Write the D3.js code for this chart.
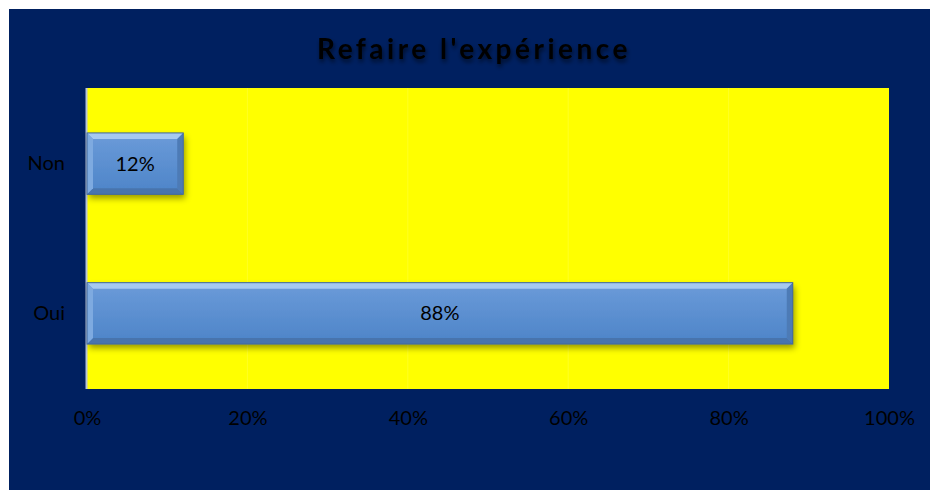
<!doctype html>
<html>
<head>
<meta charset="utf-8">
<title>Refaire l'expérience</title>
<script src="https://cdn.jsdelivr.net/npm/d3@7"></script>
<style>
  body { margin: 0; background: #ffffff; }
  text { font-family: Lato, "Open Sans", sans-serif; }
</style>
</head>
<body>
<script>
var categories = ["Non", "Oui"];
var values = [0.12, 0.88];
var tickValues = [0, 0.2, 0.4, 0.6, 0.8, 1];
var title = "Refaire l'expérience";

var width = 930, height = 490;
var margin = { left: 87, right: 41, top: 88, bottom: 101 };

var svg = d3.select("body").append("svg")
    .attr("width", width)
    .attr("height", height);

var defs = svg.append("defs");

var grad = defs.append("linearGradient")
    .attr("id", "barFill")
    .attr("x1", 0).attr("y1", 0).attr("x2", 0).attr("y2", 1);
grad.append("stop").attr("offset", "0%").attr("stop-color", "#6b9bd9");
grad.append("stop").attr("offset", "100%").attr("stop-color", "#4d84c8");

var shadow = defs.append("filter").attr("id", "barShadow")
    .attr("x", "-10%").attr("y", "-20%").attr("width", "130%").attr("height", "160%");
shadow.append("feDropShadow")
    .attr("dx", 2).attr("dy", 4).attr("stdDeviation", 3)
    .attr("flood-color", "#000").attr("flood-opacity", 0.4);

var titleShadow = defs.append("filter").attr("id", "titleShadow")
    .attr("x", "-10%").attr("y", "-30%").attr("width", "120%").attr("height", "180%");
titleShadow.append("feDropShadow")
    .attr("dx", 1).attr("dy", 3).attr("stdDeviation", 2)
    .attr("flood-color", "#000").attr("flood-opacity", 0.6);

// background
svg.append("rect")
    .attr("x", 9).attr("y", 9)
    .attr("width", width - 9).attr("height", height - 9)
    .attr("fill", "#002060");

var x = d3.scaleLinear()
    .domain([0, 1])
    .range([margin.left, width - margin.right]);

var y = d3.scaleBand()
    .domain(categories)
    .range([margin.top, height - margin.bottom])
    .paddingInner(0.59)
    .paddingOuter(0.3);

// plot area
svg.append("rect")
    .attr("x", x(0)).attr("y", margin.top)
    .attr("width", x(1) - x(0))
    .attr("height", height - margin.bottom - margin.top)
    .attr("fill", "#ffff00");

// faint gridlines
svg.selectAll(".grid")
    .data(tickValues.slice(1, -1))
    .enter().append("line")
    .attr("x1", function(d) { return x(d); })
    .attr("x2", function(d) { return x(d); })
    .attr("y1", margin.top)
    .attr("y2", height - margin.bottom)
    .attr("stroke", "#ffffb0")
    .attr("stroke-width", 1)
    .attr("opacity", 0.2);

// left axis line
svg.append("line")
    .attr("x1", x(0) - 0.5).attr("x2", x(0) - 0.5)
    .attr("y1", margin.top).attr("y2", height - margin.bottom)
    .attr("stroke", "#b8c4d8").attr("stroke-width", 2);

// bars
var bars = svg.selectAll(".bar")
    .data(categories)
    .enter().append("g")
    .attr("class", "bar");

var bev = 6;

bars.append("rect")
    .attr("x", x(0))
    .attr("y", function(d) { return y(d); })
    .attr("width", function(d, i) { return x(values[i]) - x(0); })
    .attr("height", y.bandwidth())
    .attr("fill", "url(#barFill)")
    .attr("filter", "url(#barShadow)");

// top bevel
bars.append("path")
    .attr("d", function(d, i) {
        var x0 = x(0), x1 = x(values[i]), y0 = y(d);
        return "M" + x0 + "," + y0 + "L" + x1 + "," + y0 +
            "L" + (x1 - bev) + "," + (y0 + bev) + "L" + (x0 + bev) + "," + (y0 + bev) + "Z";
    })
    .attr("fill", "#a6c9f0");

// bottom bevel
bars.append("path")
    .attr("d", function(d, i) {
        var x0 = x(0), x1 = x(values[i]), y1 = y(d) + y.bandwidth();
        return "M" + x0 + "," + y1 + "L" + x1 + "," + y1 +
            "L" + (x1 - bev) + "," + (y1 - bev) + "L" + (x0 + bev) + "," + (y1 - bev) + "Z";
    })
    .attr("fill", "#4874ad");

// right bevel
bars.append("path")
    .attr("d", function(d, i) {
        var x1 = x(values[i]), y0 = y(d), y1 = y(d) + y.bandwidth();
        return "M" + x1 + "," + y0 + "L" + x1 + "," + y1 +
            "L" + (x1 - bev) + "," + (y1 - bev) + "L" + (x1 - bev) + "," + (y0 + bev) + "Z";
    })
    .attr("fill", "#4d7bb6");

// left bevel
bars.append("path")
    .attr("d", function(d, i) {
        var x0 = x(0), y0 = y(d), y1 = y(d) + y.bandwidth();
        return "M" + x0 + "," + y0 + "L" + x0 + "," + y1 +
            "L" + (x0 + bev) + "," + (y1 - bev) + "L" + (x0 + bev) + "," + (y0 + bev) + "Z";
    })
    .attr("fill", "#7eaae0");

// outline
bars.append("rect")
    .attr("x", x(0))
    .attr("y", function(d) { return y(d); })
    .attr("width", function(d, i) { return x(values[i]) - x(0); })
    .attr("height", y.bandwidth())
    .attr("fill", "none")
    .attr("stroke", "#41679a")
    .attr("stroke-width", 1);

// value labels
bars.append("text")
    .attr("x", function(d, i) { return (x(0) + x(values[i])) / 2; })
    .attr("y", function(d) { return y(d) + y.bandwidth() / 2; })
    .attr("dy", "0.35em")
    .attr("text-anchor", "middle")
    .attr("font-size", 20)
    .attr("fill", "#000")
    .text(function(d, i) { return d3.format(".0%")(values[i]); });

// x axis
var xAxis = d3.axisBottom(x)
    .tickValues(tickValues)
    .tickFormat(d3.format(".0%"))
    .tickSize(0)
    .tickPadding(22);

var gx = svg.append("g")
    .attr("transform", "translate(0," + (height - margin.bottom) + ")")
    .call(xAxis);
gx.select(".domain").remove();
gx.selectAll("text")
    .attr("font-size", 20)
    .attr("font-family", "Lato, 'Open Sans', sans-serif")
    .attr("fill", "#000");

// y axis
var yAxis = d3.axisLeft(y).tickSize(0).tickPadding(22);
var gy = svg.append("g")
    .attr("transform", "translate(" + x(0) + ",0)")
    .call(yAxis);
gy.select(".domain").remove();
gy.selectAll("text")
    .attr("font-size", 20)
    .attr("font-family", "Lato, 'Open Sans', sans-serif")
    .attr("fill", "#000");

// title
svg.append("text")
    .attr("x", 474)
    .attr("y", 59)
    .attr("text-anchor", "middle")
    .attr("font-size", 28)
    .attr("font-weight", "bold")
    .attr("letter-spacing", 3.5)
    .attr("fill", "#000")
    .attr("filter", "url(#titleShadow)")
    .text(title);
</script>
</body>
</html>
